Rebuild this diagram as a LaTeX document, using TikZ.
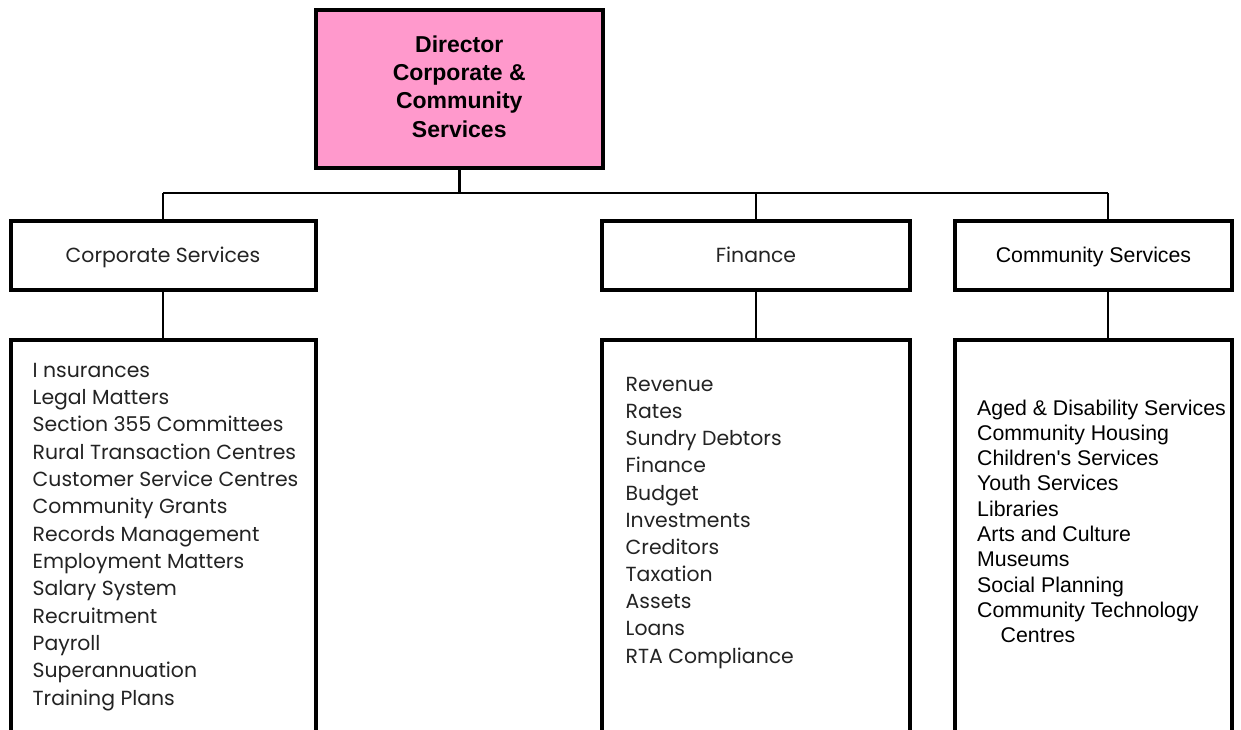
\documentclass[tikz,border=0pt]{standalone}
\usepackage{fontspec}
\setmainfont{Liberation Sans}
\newfontfamily\gothic{Poppins}
\definecolor{dirpink}{RGB}{255,153,204}
\definecolor{gtext}{RGB}{35,35,35}
\begin{document}
\begin{tikzpicture}[x=1pt,y=-1pt,
  box/.style={draw=black,line width=4pt,fill=white,inner sep=0pt,outer sep=0pt},
  headbox/.style={box,minimum height=69pt,text height=14.5pt,text depth=0pt},
  listbox/.style={box,minimum height=460pt,anchor=north},
  conn/.style={draw=black,line width=2.6pt},
  gitem/.style={anchor=base west,inner sep=0pt,font=\gothic\fontsize{20.4}{24}\selectfont,text=gtext},
  aitem/.style={anchor=base west,inner sep=0pt,font=\fontsize{21.3}{25}\selectfont,text=black}
]
\useasboundingbox (0,0) rectangle (1241,729);
% connectors
\coordinate (busD) at (459.25,193);
\coordinate (busL) at (163,193);
\coordinate (busF) at (756,193);
\coordinate (busR) at (1108,193);
% boxes
\node[box,fill=dirpink,minimum width=287.5pt,minimum height=158.5pt] (dir) at (459.25,88.75) {};
\node[inner sep=0pt,align=center,font=\bfseries\fontsize{23}{28.3}\selectfont,anchor=base] (dirtext) at (459.25,137)
  {Director\\Corporate \&\\Community\\Services};
\node[headbox,minimum width=305pt,font=\gothic\fontsize{20.4}{24}\selectfont,text=gtext] (corpHead) at (163,255) {Corporate Services};
\node[headbox,minimum width=308pt,font=\gothic\fontsize{20.4}{24}\selectfont,text=gtext] (finHead) at (756,255) {Finance};
\node[headbox,minimum width=277pt,font=\fontsize{21.3}{25}\selectfont] (commHead) at (1093.5,255) {Community Services};
\node[listbox,minimum width=305pt] (corpList) at (163,340) {};
\node[listbox,minimum width=308pt] (finList) at (756,340) {};
\node[listbox,minimum width=277pt] (commList) at (1093.5,340) {};
% connector lines
\draw[conn] (dir.south) -- (busD);
\draw[conn] (busL) -- (busR);
\draw[conn] (busL) -- (corpHead.north);
\draw[conn] (busF) -- (finHead.north);
\draw[conn] (busR) -- (busR |- commHead.north);
\draw[conn] (corpHead.south) -- (corpList.north);
\draw[conn] (finHead.south) -- (finList.north);
\draw[conn] (commHead.south -| busR) -- (commList.north -| busR);
% corporate items
\foreach \t [count=\i] in {I nsurances,Legal Matters,Section 355 Committees,Rural Transaction Centres,Customer Service Centres,Community Grants,Records Management,Employment Matters,Salary System,Recruitment,Payroll,Superannuation,Training Plans}
  \node[gitem] (corp\i) at (32.5,{377+27.35*(\i-1)}) {\t};
% finance items
\foreach \t [count=\i] in {Revenue,Rates,Sundry Debtors,Finance,Budget,Investments,Creditors,Taxation,Assets,Loans,RTA Compliance}
  \node[gitem] (fin\i) at (625.5,{391.5+27.15*(\i-1)}) {\t};
% community items
\foreach \t [count=\i] in {Aged \& Disability Services,Community Housing,Children\textquotesingle s Services,Youth Services,Libraries,Arts and Culture,Museums,Social Planning,Community Technology}
  \node[aitem] (comm\i) at (977,{415+25.3*(\i-1)}) {\t};
\node[aitem] (comm10) at (1000.5,{415+25.3*9}) {Centres};
\end{tikzpicture}
\end{document}
